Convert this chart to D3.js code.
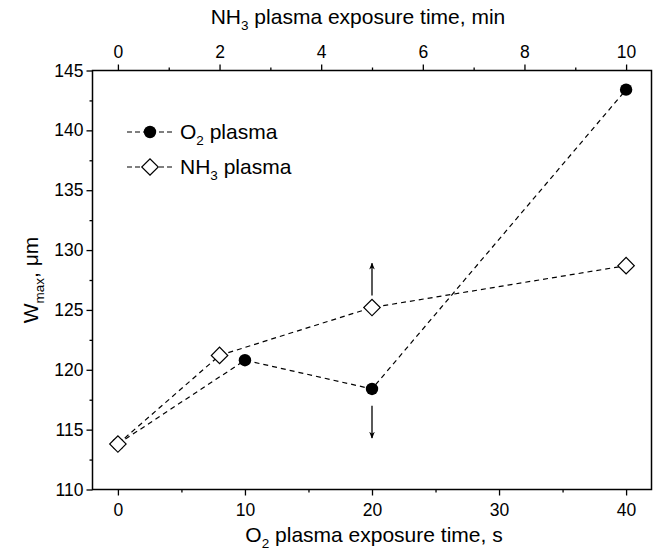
<!DOCTYPE html>
<html>
<head>
<meta charset="utf-8">
<script src="https://cdn.jsdelivr.net/npm/d3@7"></script>
<style>
  html, body { margin: 0; padding: 0; background: #fff; }
  svg { display: block; font-family: "Liberation Sans", Arial, Helvetica, sans-serif; }
</style>
</head>
<body>
<svg id="chart" width="655" height="552"></svg>
<script>
// O2 plasma series: exposure time in seconds
const o2Times = [0, 10, 20, 40];
const o2Wmax = [113.8, 120.8, 118.4, 143.4];

// NH3 plasma series: exposure time in minutes (top axis)
const nh3Times = [0, 2, 5, 10];
const nh3Wmax = [113.8, 121.2, 125.2, 128.7];

// Axis ticks
const bottomTicks = [0, 10, 20, 30, 40];
const bottomMinor = [5, 15, 25, 35];
const topTicks = [0, 2, 4, 6, 8, 10];
const topMinor = [1, 3, 5, 7, 9];
const leftTicks = [110, 115, 120, 125, 130, 135, 140, 145];
const leftMinor = [112.5, 117.5, 122.5, 127.5, 132.5, 137.5, 142.5];

// Direction arrows at the 20 s / 5 min points
const arrowsUp = [{ x: 20, y0: 126.2, y1: 128.9 }];
const arrowsDown = [{ x: 20, y0: 117.0, y1: 114.3 }];

const svg = d3.select("#chart");
const m = { left: 92.5, right: 651.5, top: 70.5, bottom: 489.5 };

const x = d3.scaleLinear().domain([-2, 42]).range([m.left, m.right]);
const xTop = d3.scaleLinear().domain([-0.5, 10.5]).range([m.left, m.right]);
const y = d3.scaleLinear().domain([110, 145]).range([m.bottom, m.top]);

const fontTick = 17.5;
const titleSize = 21;
const subSize = 13.5;
const stroke = "#000";

// Frame
svg.append("rect")
  .attr("x", m.left).attr("y", m.top)
  .attr("width", m.right - m.left).attr("height", m.bottom - m.top)
  .attr("fill", "none").attr("stroke", stroke).attr("stroke-width", 1.5);

function styleAxis(g) {
  g.select(".domain").remove();
  g.selectAll("line").attr("stroke", stroke).attr("stroke-width", 1.3);
  g.selectAll("text").attr("font-size", fontTick).attr("fill", "#000")
    .attr("font-family", "Liberation Sans, Arial, sans-serif");
}

// Bottom axis
svg.append("g").attr("transform", `translate(0,${m.bottom})`)
  .call(d3.axisBottom(x).tickValues(bottomTicks).tickSize(6).tickPadding(8).tickFormat(d3.format("d")))
  .call(styleAxis);
svg.append("g").attr("transform", `translate(0,${m.bottom})`)
  .call(d3.axisBottom(x).tickValues(bottomMinor).tickSize(3).tickFormat(""))
  .call(styleAxis);

// Top axis
svg.append("g").attr("transform", `translate(0,${m.top})`)
  .call(d3.axisTop(xTop).tickValues(topTicks).tickSize(6).tickPadding(7).tickFormat(d3.format("d")))
  .call(styleAxis);
svg.append("g").attr("transform", `translate(0,${m.top})`)
  .call(d3.axisTop(xTop).tickValues(topMinor).tickSize(3).tickFormat(""))
  .call(styleAxis);

// Left axis
svg.append("g").attr("transform", `translate(${m.left},0)`)
  .call(d3.axisLeft(y).tickValues(leftTicks).tickSize(6).tickPadding(3).tickFormat(d3.format("d")))
  .call(styleAxis);
svg.append("g").attr("transform", `translate(${m.left},0)`)
  .call(d3.axisLeft(y).tickValues(leftMinor).tickSize(3).tickFormat(""))
  .call(styleAxis);

// Axis titles
function subscripted(sel, main, sub, rest) {
  sel.append("tspan").text(main);
  sel.append("tspan").text(sub).attr("font-size", subSize).attr("dy", 6);
  sel.append("tspan").text(rest).attr("dy", -6);
  return sel;
}

subscripted(svg.append("text")
  .attr("x", 358).attr("y", 24)
  .attr("text-anchor", "middle").attr("font-size", titleSize),
  "NH", "3", " plasma exposure time, min");

subscripted(svg.append("text")
  .attr("x", 374).attr("y", 542)
  .attr("text-anchor", "middle").attr("font-size", titleSize),
  "O", "2", " plasma exposure time, s");

subscripted(svg.append("text")
  .attr("transform", `translate(38,${(m.top + m.bottom) / 2}) rotate(-90)`)
  .attr("text-anchor", "middle").attr("font-size", titleSize),
  "W", "max", ", μm");

// Series positions: O2 on the seconds scale, NH3 on the minutes scale
const o2Data = o2Times.map((t, i) => ({ px: x(t), py: y(o2Wmax[i]) }));
const nh3Data = nh3Times.map((t, i) => ({ px: xTop(t), py: y(nh3Wmax[i]) }));

const line = d3.line().x(d => d.px).y(d => d.py);
const dash = "5,4";

[o2Data, nh3Data].forEach(data => {
  svg.append("path").datum(data).attr("d", line)
    .attr("fill", "none").attr("stroke", stroke)
    .attr("stroke-width", 1.2).attr("stroke-dasharray", dash);
});

const diamond = d3.symbol().type(d3.symbolSquare).size(135);

function drawCircle(g, cx, cy) {
  g.append("circle").attr("cx", cx).attr("cy", cy).attr("r", 6.2).attr("fill", "#000");
}
function drawDiamond(g, cx, cy) {
  g.append("path").attr("d", diamond())
    .attr("transform", `translate(${cx},${cy}) rotate(45)`)
    .attr("fill", "#fff").attr("stroke", stroke).attr("stroke-width", 1.2);
}

// Circles first; the open diamonds sit on top where the series share a point
o2Data.forEach(d => drawCircle(svg, d.px, d.py));
nh3Data.forEach(d => drawDiamond(svg, d.px, d.py));

// Arrows
const defs = svg.append("defs");
defs.append("marker").attr("id", "arrow")
  .attr("viewBox", "0 0 10 10").attr("refX", 9).attr("refY", 5)
  .attr("markerWidth", 7).attr("markerHeight", 9).attr("markerUnits", "userSpaceOnUse")
  .attr("orient", "auto")
  .append("path").attr("d", "M0,1 L10,5 L0,9 L3,5 Z").attr("fill", "#000");

arrowsUp.concat(arrowsDown).forEach(a => {
  svg.append("line")
    .attr("x1", x(a.x)).attr("x2", x(a.x))
    .attr("y1", y(a.y0)).attr("y2", y(a.y1))
    .attr("stroke", stroke).attr("stroke-width", 1.3)
    .attr("marker-end", "url(#arrow)");
});

// Legend
const legend = [
  { label: "O", sub: "2", rest: " plasma", mark: "circle", y: 132 },
  { label: "NH", sub: "3", rest: " plasma", mark: "diamond", y: 167 }
];
legend.forEach(l => {
  svg.append("line").attr("x1", 127).attr("x2", 173).attr("y1", l.y).attr("y2", l.y)
    .attr("stroke", stroke).attr("stroke-width", 1.2).attr("stroke-dasharray", "5,3");
  if (l.mark === "circle") drawCircle(svg, 150, l.y); else drawDiamond(svg, 150, l.y);
  subscripted(svg.append("text").attr("x", 180).attr("y", l.y + 7).attr("font-size", titleSize),
    l.label, l.sub, l.rest);
});
</script>
</body>
</html>
